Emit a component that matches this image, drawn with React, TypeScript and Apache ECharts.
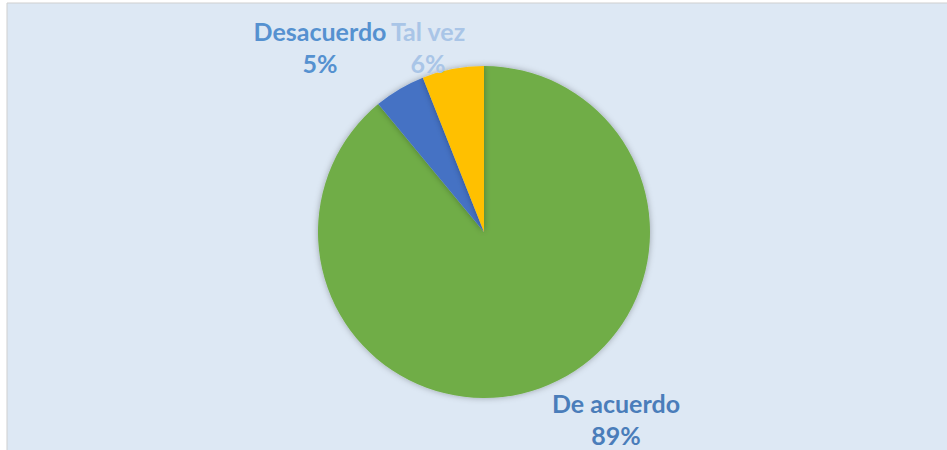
import React, { useEffect, useRef } from "react";
import * as echarts from "echarts";

const categories = ["De acuerdo", "Desacuerdo", "Tal vez"];
const values = [89, 5, 6];
const sliceColors = ["#70ad47", "#4472c4", "#ffc000"];
const labelColors = ["#4a7dba", "#5591d0", "#a9c5e7"];
// label anchor positions (centre of label block) in px
const labelPos: [number, number][] = [
  [616, 419],
  [320, 47],
  [428, 47],
];

export default function App() {
  const ref = useRef<HTMLDivElement>(null);
  useEffect(() => {
    if (!ref.current) return;
    const chart = echarts.init(ref.current, null, { renderer: "svg" });
    chart.setOption({
      animation: false,
      backgroundColor: "#ffffff",
      graphic: [
        {
          type: "rect",
          z: -10,
          shape: { x: 7, y: 3, width: 945, height: 452 },
          style: { fill: "#dde8f4", stroke: "#cfcfcf", lineWidth: 1 },
          silent: true,
        },
      ],
      series: [
        {
          type: "pie",
          center: [484, 232],
          radius: 166,
          startAngle: 90,
          clockwise: true,
          itemStyle: {
            borderWidth: 0,
            shadowBlur: 6,
            shadowColor: "rgba(0,0,0,0.3)",
          },
          label: {
            show: true,
            position: "outside",
            formatter: (p: any) => `${p.name}\n${p.value}%`,
            fontFamily: "Lato",
            fontWeight: "bold",
            fontSize: 25,
            lineHeight: 32,
            align: "center",
          },
          labelLine: { show: false },
          labelLayout: (params: any) => {
            const pos = labelPos[params.dataIndex];
            return {
              x: pos[0],
              y: pos[1],
              align: "center",
              verticalAlign: "middle",
            };
          },
          emphasis: { disabled: true },
          data: categories.map((name, i) => ({
            name,
            value: values[i],
            itemStyle: { color: sliceColors[i] },
            label: { color: labelColors[i] },
          })),
        },
      ],
    });
    return () => chart.dispose();
  }, []);
  return (
    <div
      ref={ref}
      style={{ position: "fixed", left: 0, top: 0, width: 947, height: 450 }}
    />
  );
}
